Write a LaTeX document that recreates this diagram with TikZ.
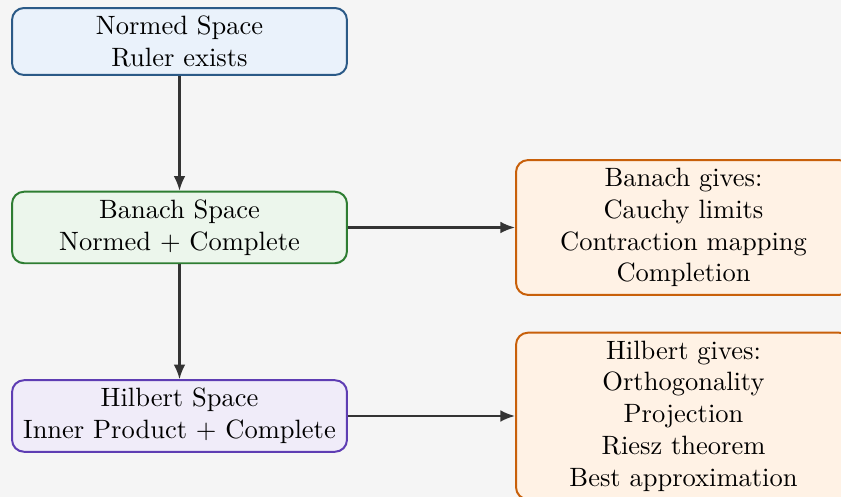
\documentclass[tikz,border=0pt]{standalone}
\usetikzlibrary{arrows.meta}

\definecolor{bgcol}{HTML}{F5F5F5}
\definecolor{normedline}{HTML}{2B5A87}
\definecolor{normedfill}{HTML}{EAF2FB}
\definecolor{banachline}{HTML}{2E7D32}
\definecolor{banachfill}{HTML}{ECF6EC}
\definecolor{hilbertline}{HTML}{5E3DB3}
\definecolor{hilbertfill}{HTML}{F0ECF9}
\definecolor{giveline}{HTML}{C8600A}
\definecolor{givefill}{HTML}{FFF2E5}
\definecolor{arrowcol}{HTML}{333333}

\tikzset{
  spacebox/.style={draw, rounded corners=4.5pt, line width=0.75pt,
    align=center, minimum width=126.4pt, inner xsep=2pt, inner ysep=3pt},
  normedbox/.style={spacebox, draw=normedline, fill=normedfill},
  banachbox/.style={spacebox, draw=banachline, fill=banachfill},
  hilbertbox/.style={spacebox, draw=hilbertline, fill=hilbertfill},
  givesbox/.style={spacebox, draw=giveline, fill=givefill},
  flow/.style={draw=arrowcol, line width=0.8pt,
    -{Latex[length=5.5pt,width=4.4pt]}}
}

\begin{document}
\begin{tikzpicture}[x=0.3774pt, y=-0.3774pt]
  % canvas
  \fill[bgcol] (0,0) rectangle (841,497);
  \useasboundingbox (0,0) rectangle (841,497);
  \begin{scope}
    \clip (0,0) rectangle (841,497);

    % the three kinds of space
    \node[normedbox]  (normed)  at (179.5,41.5) {Normed Space\\Ruler exists};
    \node[banachbox]  (banach)  at (179.5,227.5) {Banach Space\\Normed + Complete};
    \node[hilbertbox] (hilbert) at (179.5,416) {Hilbert Space\\Inner Product + Complete};

    % what each completeness level provides
    \node[givesbox] (bgives) at (683.5,227.5)
      {Banach gives:\\Cauchy limits\\Contraction mapping\\Completion};
    \node[givesbox] (hgives) at (683.5,416)
      {Hilbert gives:\\Orthogonality\\Projection\\Riesz theorem\\Best approximation};

    % connectors
    \draw[flow] (normed) -- (banach);
    \draw[flow] (banach) -- (hilbert);
    \draw[flow] (banach) -- (bgives);
    \draw[flow] (hilbert) -- (hgives);
  \end{scope}
\end{tikzpicture}
\end{document}
